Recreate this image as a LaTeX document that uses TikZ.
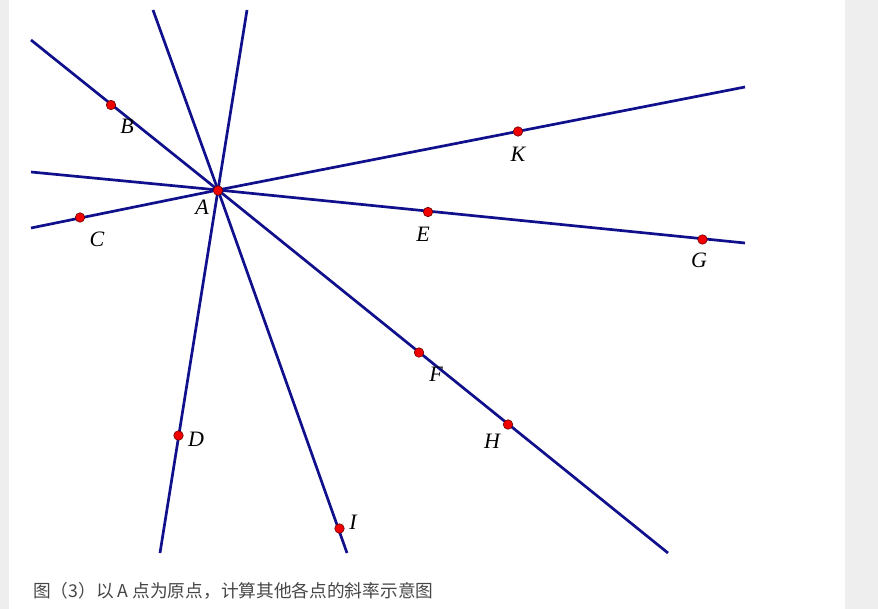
\documentclass[tikz,border=0pt]{standalone}
\usepackage{fontspec}
\setmainfont{Liberation Serif}
\newfontfamily\cjk{Noto Sans CJK SC}
\definecolor{linecol}{RGB}{16,16,140}
\definecolor{ptfill}{RGB}{240,0,0}
\definecolor{ptdraw}{RGB}{110,0,0}
\definecolor{bordergray}{RGB}{238,238,238}
\definecolor{captioncol}{RGB}{70,70,70}
\begin{document}
\begin{tikzpicture}[x=1pt,y=-1pt,
  ray/.style={draw=linecol,line width=2.7pt,line cap=butt},
  pt/.style={circle,fill=ptfill,draw=ptdraw,line width=0.6pt,inner sep=0pt,minimum size=9.5pt},
  lbl/.style={font=\fontsize{22}{22}\selectfont\itshape,inner sep=0pt,text=black}]
\useasboundingbox (0,0) rectangle (878,609);
\fill[bordergray] (0,0) rectangle (9,609);
\fill[bordergray] (845,0) rectangle (878,609);
% line endpoints
\coordinate (a) at (218,190);
\coordinate (l1s) at (31,40);   \coordinate (l1e) at (668,553);
\coordinate (l2s) at (153,10);  \coordinate (l2e) at (347,553);
\coordinate (l3s) at (247,10);  \coordinate (l3e) at (160,553);
\coordinate (l4s) at (31,172);  \coordinate (l4e) at (745,243);
\coordinate (l5s) at (31,228);  \coordinate (l5e) at (745,87);
\draw[ray] (l1s) -- (a) -- (l1e);
\draw[ray] (l2s) -- (a) -- (l2e);
\draw[ray] (l3s) -- (a) -- (l3e);
\draw[ray] (l4s) -- (a) -- (l4e);
\draw[ray] (l5s) -- (a) -- (l5e);
% points
\node[pt] (A) at (218,190.5) {};
\node[pt] (B) at (111,105) {};
\node[pt] (C) at (80,217.5) {};
\node[pt] (K) at (518,131.5) {};
\node[pt] (E) at (428,212) {};
\node[pt] (G) at (702.5,239.5) {};
\node[pt] (F) at (419,352.5) {};
\node[pt] (H) at (508,424.5) {};
\node[pt] (D) at (178.5,435.5) {};
\node[pt] (I) at (339.5,528.5) {};
% labels
\node[lbl] (tA) at (202,207) {A};
\node[lbl] (tB) at (127,126) {B};
\node[lbl] (tC) at (97,239) {C};
\node[lbl] (tK) at (518,154) {K};
\node[lbl] (tE) at (423,234) {E};
\node[lbl] (tG) at (699,260) {G};
\node[lbl] (tF) at (436,374) {F};
\node[lbl] (tD) at (196,439) {D};
\node[lbl] (tH) at (492,441) {H};
\node[lbl] (tI) at (353,522) {I};
% caption
\node[anchor=west,inner sep=0pt,text=captioncol,font=\cjk\fontsize{17.7}{17.7}\selectfont] (cap) at (33,591) {图（3）以 A 点为原点，计算其他各点的斜率示意图};
\end{tikzpicture}
\end{document}
